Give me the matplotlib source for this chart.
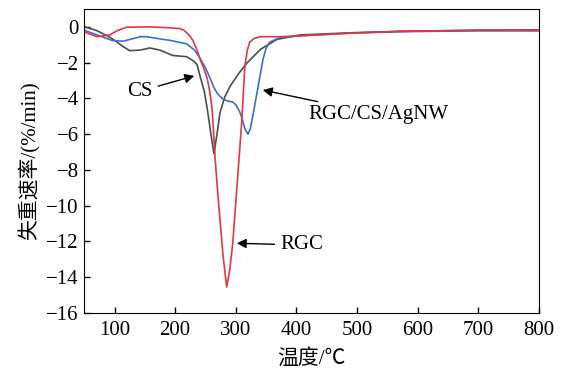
import matplotlib.pyplot as plt
import numpy as np

plt.rcParams['font.family'] = ['Liberation Serif', 'Noto Sans CJK SC']
plt.rcParams['axes.unicode_minus'] = True

# CS
cs_t = [51, 70, 88, 100, 114, 125, 142, 158, 175, 196, 219, 230, 236, 241, 248, 253, 259, 264,
        269, 274, 282, 291, 305, 319, 341, 368, 406, 490, 570, 700, 800]
cs_v = [0.0, -0.2, -0.5, -0.75, -1.1, -1.33, -1.3, -1.18, -1.3, -1.6, -1.67, -1.9, -2.1, -2.75, -3.6, -4.6, -6.0, -7.1,
        -6.0, -4.8, -3.9, -3.3, -2.6, -2.0, -1.25, -0.7, -0.45, -0.33, -0.25, -0.18, -0.17]

# RGC
rgc_t = [51, 71, 92, 105, 120, 158, 190, 208, 215, 224, 229, 235, 241, 247, 253, 257, 261, 266, 270, 274,
         279, 285, 290, 295, 304, 310, 315, 319, 323, 330, 340, 373, 406, 490, 570, 700, 800]
rgc_v = [-0.3, -0.55, -0.45, -0.2, -0.02, 0.0, -0.05, -0.1, -0.2, -0.5, -0.75, -1.2, -1.8, -2.3, -2.9, -3.6, -4.6, -7.4, -9.2, -10.8,
         -12.8, -14.55, -13.6, -12.1, -8.0, -5.2, -2.2, -1.3, -0.85, -0.65, -0.55, -0.55, -0.5, -0.35, -0.25, -0.2, -0.2]

# RGC/CS/AgNW
blue_t = [51, 75, 97, 114, 137, 142, 153, 180, 191, 219, 232, 241, 250, 258, 264, 270, 279, 287, 295, 301, 307,
          311, 315, 320, 324, 328, 336, 345, 350, 356, 373, 406, 490, 570, 700, 800]
blue_v = [-0.2, -0.5, -0.77, -0.8, -0.6, -0.55, -0.55, -0.7, -0.75, -0.95, -1.3, -1.75, -2.3, -2.9, -3.4, -3.75, -4.05, -4.15, -4.2, -4.4, -4.8,
          -5.2, -5.7, -6.0, -5.7, -5.0, -3.5, -1.8, -1.2, -0.85, -0.6, -0.5, -0.35, -0.27, -0.22, -0.22]

fig, ax = plt.subplots(figsize=(5.63, 3.69), dpi=100)
fig.subplots_adjust(left=0.1497, right=0.957, bottom=0.152, top=0.9756)

ax.plot(cs_t, cs_v, color='#4d4d4d', lw=1.2)
ax.plot(blue_t, blue_v, color='#3b6fcc', lw=1.2)
ax.plot(rgc_t, rgc_v, color='#e23646', lw=1.2)

ax.set_xlim(50, 800)
ax.set_ylim(-16, 1)
ax.set_xticks(np.arange(100, 801, 100))
ax.set_yticks(np.arange(-16, 1, 2))
ax.tick_params(direction='in', labelsize=15, length=4, width=1)
ax.tick_params(axis='x', pad=6)
ax.tick_params(axis='y', pad=4)
ax.set_xlabel('温度/℃', fontsize=15, labelpad=6)
ax.set_ylabel('失重速率/(%/min)', fontsize=15, labelpad=4)

arrow = dict(arrowstyle='-|>', color='k', lw=1, mutation_scale=14)
ax.annotate('CS', xy=(236, -2.7), xytext=(142, -3.6), fontsize=15,
            ha='center', va='center', arrowprops=arrow)
ax.annotate('RGC/CS/AgNW', xy=(340, -3.5), xytext=(420, -4.9), fontsize=15,
            ha='left', va='center', arrowprops=arrow)
ax.annotate('RGC', xy=(297, -12.1), xytext=(373, -12.2), fontsize=15,
            ha='left', va='center', arrowprops=arrow)

fig.savefig('out.png', dpi=100)
